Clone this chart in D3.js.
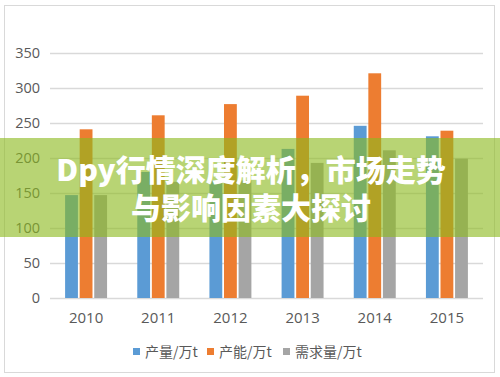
<!DOCTYPE html>
<html>
<head>
<meta charset="utf-8">
<script src="https://cdn.jsdelivr.net/npm/d3@7"></script>
<style>
  html, body { margin: 0; padding: 0; background: #fff; }
  svg { display: block; font-family: "Noto Sans CJK SC", "Noto Sans", sans-serif; }
</style>
</head>
<body>
<div id="chart"></div>
<script>
// 年份与三组数据（万t）
const years = ['2010', '2011', '2012', '2013', '2014', '2015'];
const seriesNames = ['产量/万t', '产能/万t', '需求量/万t'];
const output = [147, 180, 168, 213, 246, 231];
const capacity = [241, 261, 277, 289, 321, 239];
const demand = [147, 166, 168, 193, 211, 199];
const yTicks = [0, 50, 100, 150, 200, 250, 300, 350];
const titleLines = ['Dpy行情深度解析，市场走势', '与影响因素大探讨'];

const colors = ['#5b9bd5', '#ed7d31', '#a5a5a5'];
const seriesData = [output, capacity, demand];

const W = 500, H = 377;
const plot = { left: 50, right: 483, top: 53, bottom: 298 };

const svg = d3.select('#chart').append('svg')
  .attr('width', W)
  .attr('height', H);

// 外框
svg.append('rect')
  .attr('x', 4.5).attr('y', 5.5)
  .attr('width', 490).attr('height', 367)
  .attr('fill', '#fff')
  .attr('stroke', '#d9d9d9');

const x0 = d3.scaleBand()
  .domain(years)
  .range([plot.left, plot.right])
  .paddingInner(0.37)
  .paddingOuter(0.185);

const x1 = d3.scaleBand()
  .domain(seriesNames)
  .range([0, x0.bandwidth()])
  .padding(0.12);

const y = d3.scaleLinear()
  .domain([0, 350])
  .range([plot.bottom, plot.top]);

// 网格线
svg.append('g')
  .selectAll('line')
  .data(yTicks)
  .join('line')
  .attr('x1', plot.left).attr('x2', plot.right)
  .attr('y1', d => Math.round(y(d)) + 0.5)
  .attr('y2', d => Math.round(y(d)) + 0.5)
  .attr('stroke', '#d9d9d9')
  .attr('stroke-width', 1.5);

// y轴刻度文字
svg.append('g')
  .selectAll('text')
  .data(yTicks)
  .join('text')
  .attr('x', 40)
  .attr('y', d => y(d))
  .attr('dy', '0.35em')
  .attr('text-anchor', 'end')
  .attr('fill', '#595959')
  .style('font-size', '14.5px')
  .style('font-family', '"Open Sans", "Noto Sans", sans-serif')
  .text(d => d);

// 柱子
const groups = svg.append('g')
  .selectAll('g')
  .data(years)
  .join('g')
  .attr('transform', d => `translate(${x0(d)},0)`);

groups.selectAll('rect')
  .data((yr, i) => seriesNames.map((s, j) => ({ s, j, v: seriesData[j][i] })))
  .join('rect')
  .attr('x', d => x1(d.s))
  .attr('width', x1.bandwidth())
  .attr('y', d => y(d.v))
  .attr('height', d => y(0) - y(d.v))
  .attr('fill', d => colors[d.j]);

// x轴文字
svg.append('g')
  .selectAll('text')
  .data(years)
  .join('text')
  .attr('x', d => x0(d) + x0.bandwidth() / 2)
  .attr('y', 323)
  .attr('text-anchor', 'middle')
  .attr('fill', '#595959')
  .style('font-size', '15px')
  .style('font-family', '"Open Sans", "Noto Sans", sans-serif')
  .text(d => d);

// 图例
const legendX = [133, 207, 283];
const legend = svg.append('g');
seriesNames.forEach((name, i) => {
  legend.append('rect')
    .attr('x', legendX[i]).attr('y', 348)
    .attr('width', 7).attr('height', 7)
    .attr('fill', colors[i]);
  legend.append('text')
    .attr('x', legendX[i] + 12)
    .attr('y', 352)
    .attr('dy', '0.35em')
    .attr('fill', '#595959')
    .style('font-size', '14px')
    .text(name);
});

// 标题横幅
svg.append('rect')
  .attr('x', 0).attr('y', 138)
  .attr('width', W).attr('height', 99)
  .attr('fill', 'rgba(140,185,30,0.62)');

svg.append('g')
  .selectAll('text')
  .data(titleLines)
  .join('text')
  .attr('x', 251)
  .attr('y', (d, i) => 181 + i * 38)
  .attr('text-anchor', 'middle')
  .attr('fill', '#fff')
  .style('font-size', '30px')
  .style('font-weight', '900')
  .text(d => d);
</script>
</body>
</html>
